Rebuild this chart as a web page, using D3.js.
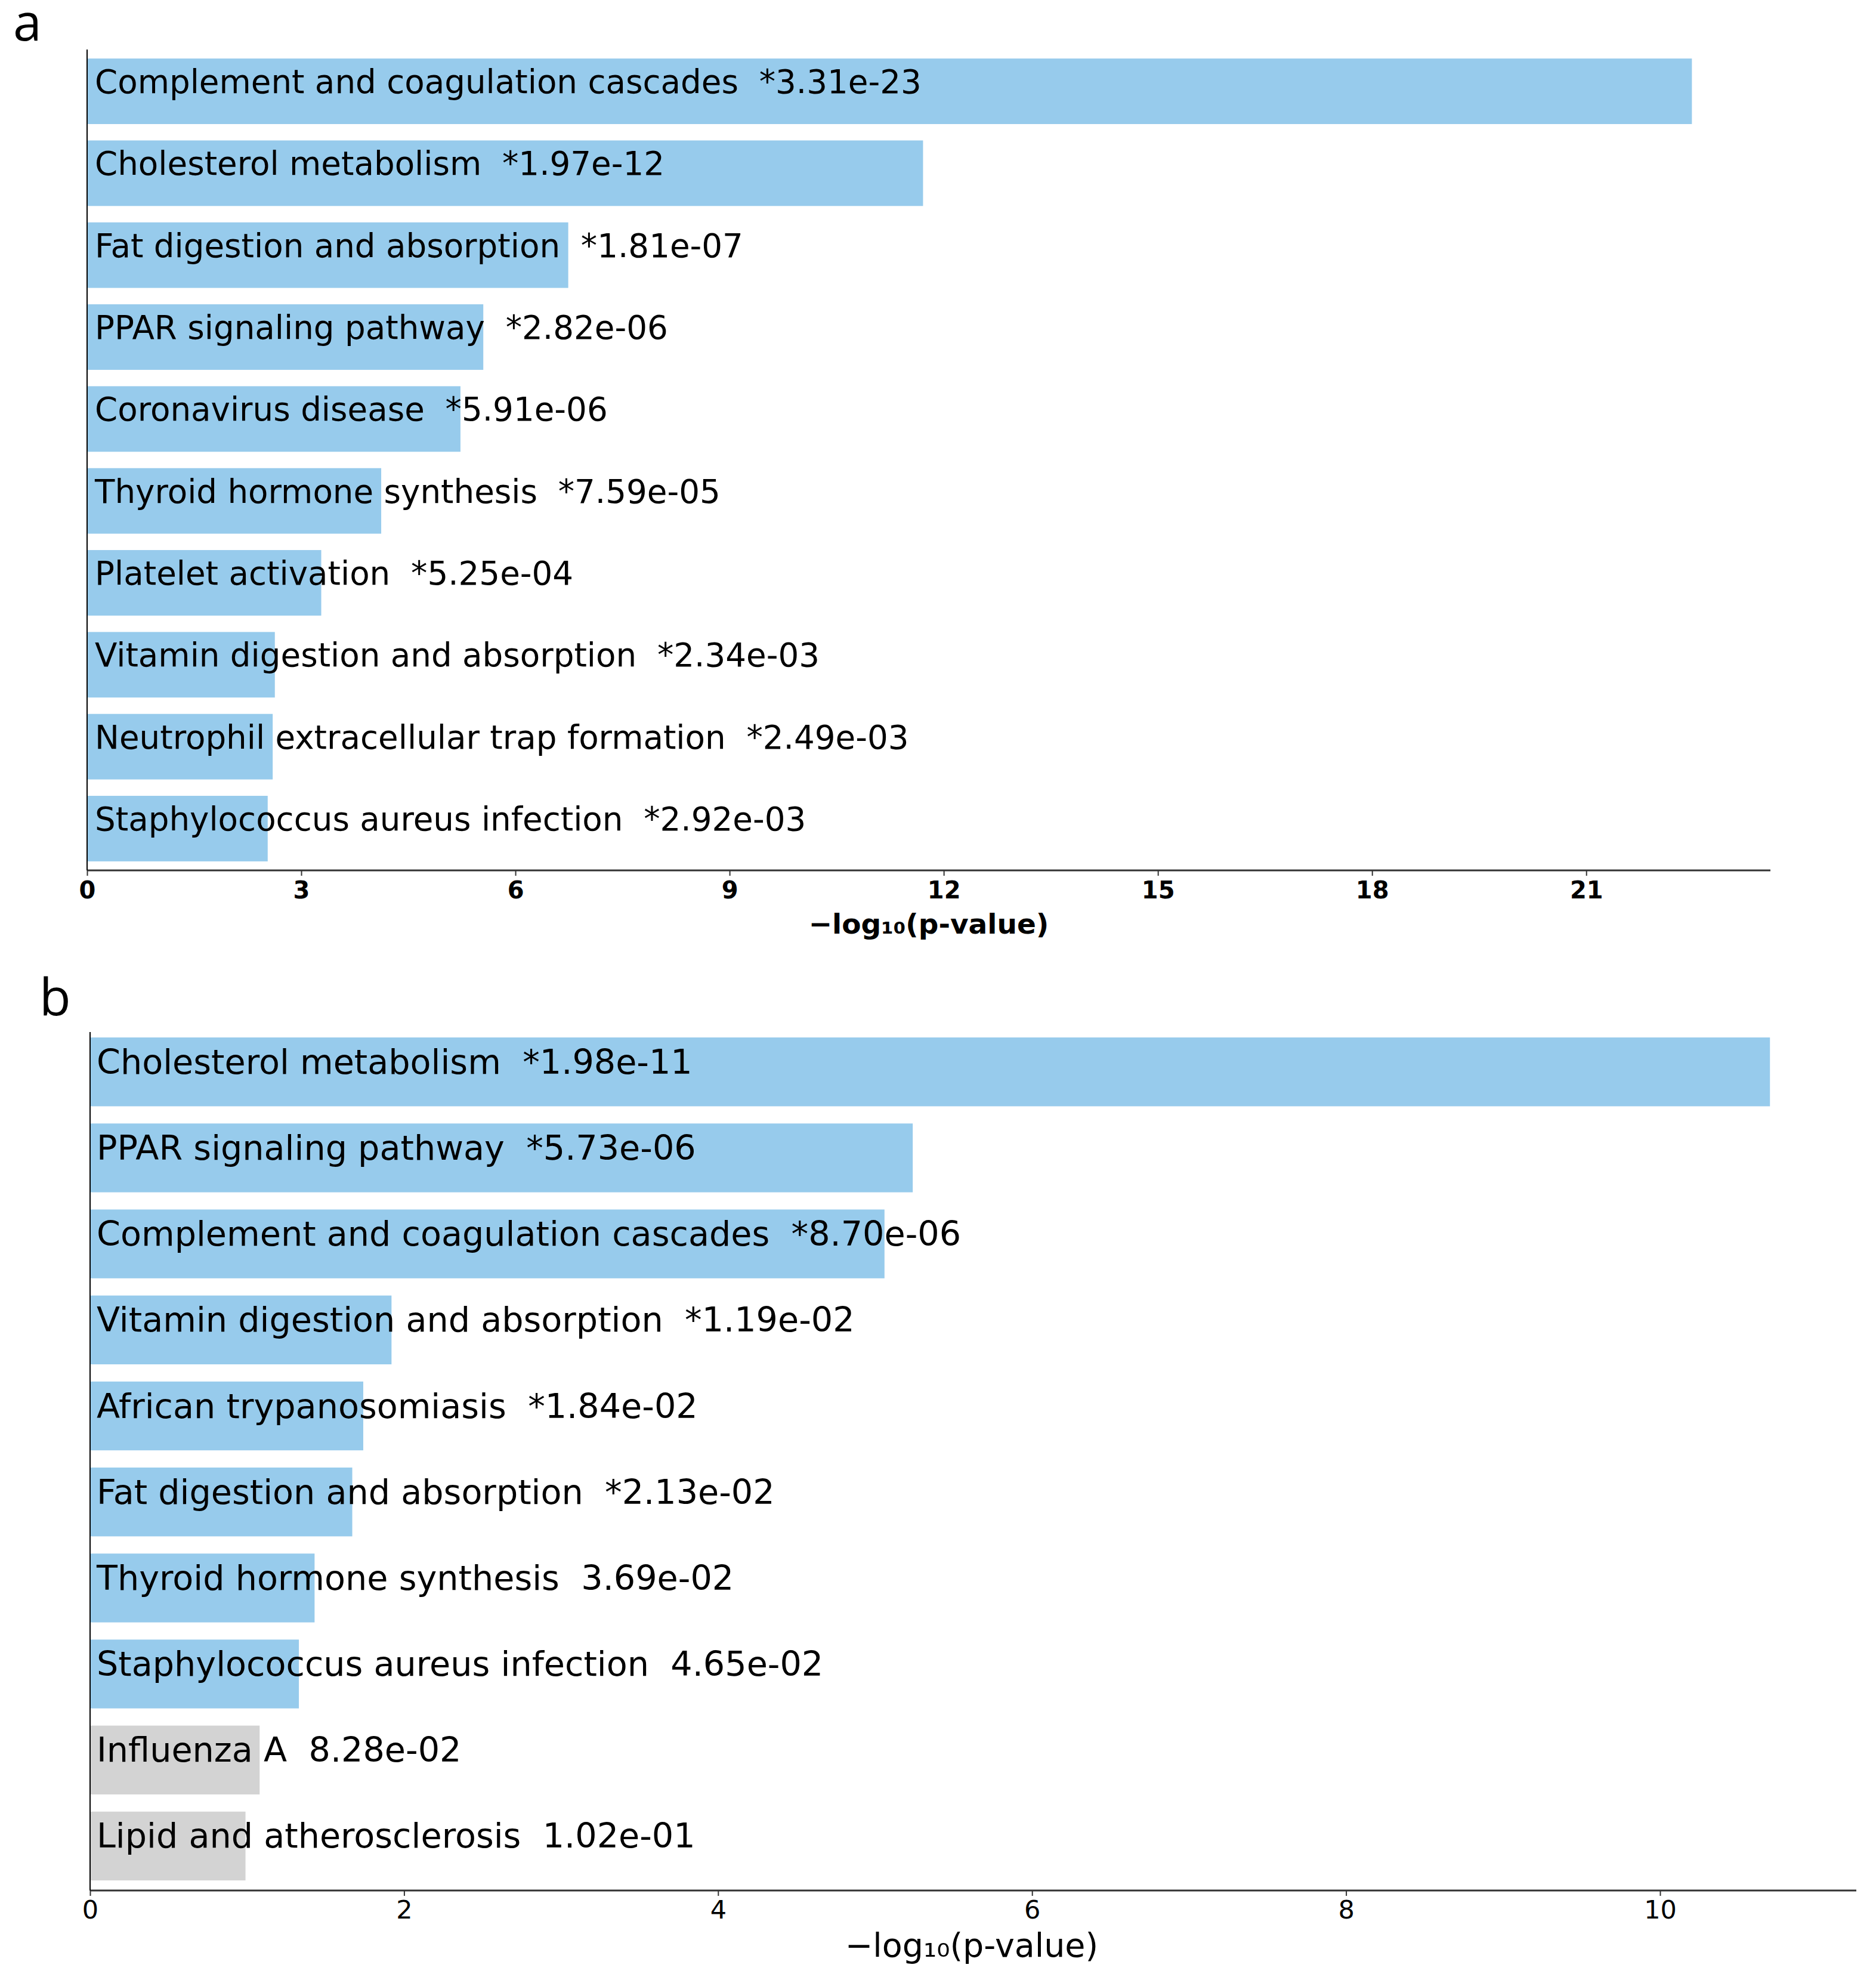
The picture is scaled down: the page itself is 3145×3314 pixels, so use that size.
<!DOCTYPE html>
<html>
<head>
<meta charset="utf-8">
<script src="https://cdn.jsdelivr.net/npm/d3@7"></script>
<style>
  body { margin: 0; background: #fff; }
  text { font-family: "DejaVu Sans", sans-serif; }
</style>
</head>
<body>
<div id="chart"></div>
<script>
// panel a
var termsA = ["Complement and coagulation cascades", "Cholesterol metabolism", "Fat digestion and absorption",
  "PPAR signaling pathway", "Coronavirus disease", "Thyroid hormone synthesis", "Platelet activation",
  "Vitamin digestion and absorption", "Neutrophil extracellular trap formation", "Staphylococcus aureus infection"];
var pTextA = ["*3.31e-23", "*1.97e-12", "*1.81e-07", "*2.82e-06", "*5.91e-06", "*7.59e-05", "*5.25e-04",
  "*2.34e-03", "*2.49e-03", "*2.92e-03"];
var valuesA = [22.48, 11.71, 6.74, 5.55, 5.23, 4.12, 3.28, 2.63, 2.60, 2.53];
var groupA = ["sig", "sig", "sig", "sig", "sig", "sig", "sig", "sig", "sig", "sig"];
var ticksA = [0, 3, 6, 9, 12, 15, 18, 21];

// panel b
var termsB = ["Cholesterol metabolism", "PPAR signaling pathway", "Complement and coagulation cascades",
  "Vitamin digestion and absorption", "African trypanosomiasis", "Fat digestion and absorption",
  "Thyroid hormone synthesis", "Staphylococcus aureus infection", "Influenza A", "Lipid and atherosclerosis"];
var pTextB = ["*1.98e-11", "*5.73e-06", "*8.70e-06", "*1.19e-02", "*1.84e-02", "*2.13e-02", "3.69e-02",
  "4.65e-02", "8.28e-02", "1.02e-01"];
var valuesB = [10.70, 5.24, 5.06, 1.92, 1.74, 1.67, 1.43, 1.33, 1.08, 0.99];
var groupB = ["sig", "sig", "sig", "sig", "sig", "sig", "sig", "sig", "ns", "ns"];
var ticksB = [0, 2, 4, 6, 8, 10];

var axisTitle = "\u2212log\u2081\u2080(p-value)";
var colors = { sig: "#97cbec", ns: "#d3d3d3" };

var svgWidth = 3145;
var svgHeight = 3314;

var svg = d3.select("#chart")
  .append("svg")
  .attr("width", svgWidth)
  .attr("height", svgHeight);

svg.append("rect").attr("width", svgWidth).attr("height", svgHeight).attr("fill", "#fff");

function drawPanel(p) {
  var data = p.terms.map(function(t, i) {
    return { term: t, ptext: p.ptext[i], value: p.values[i], group: p.group[i] };
  });

  var xScale = d3.scaleLinear()
    .domain([0, p.xmax])
    .range([p.left, p.right]);

  var yScale = d3.scaleBand()
    .domain(data.map(function(d) { return d.term; }))
    .range([p.top, p.bottom])
    .paddingInner(0.2)
    .paddingOuter(p.outer)
    .align(p.align);

  var g = svg.append("g");

  // bars
  g.selectAll("rect.bar")
    .data(data)
    .enter()
    .append("rect")
    .attr("class", "bar")
    .attr("x", xScale(0))
    .attr("y", function(d) { return yScale(d.term); })
    .attr("width", function(d) { return xScale(d.value) - xScale(0); })
    .attr("height", yScale.bandwidth())
    .attr("fill", function(d) { return colors[d.group]; });

  // x axis
  var xAxis = d3.axisBottom(xScale)
    .tickValues(p.ticks)
    .tickFormat(d3.format("d"))
    .tickSize(9)
    .tickPadding(p.tickPad);

  var ax = g.append("g")
    .attr("transform", "translate(0," + p.bottom + ")")
    .call(xAxis);
  ax.select(".domain").remove();
  ax.selectAll(".tick line").attr("stroke", "#333").attr("stroke-width", 2);
  ax.selectAll(".tick text")
    .attr("fill", "#000")
    .style("font-family", "DejaVu Sans")
    .style("font-size", p.tickSize + "px")
    .style("font-weight", p.bold ? "bold" : "normal");

  // spines: left and bottom only
  g.append("line")
    .attr("x1", p.left).attr("x2", p.right)
    .attr("y1", p.bottom).attr("y2", p.bottom)
    .attr("stroke", "#333").attr("stroke-width", 3);
  g.append("line")
    .attr("x1", p.left).attr("x2", p.left)
    .attr("y1", p.top).attr("y2", p.bottom)
    .attr("stroke", "#000").attr("stroke-width", 2);

  // bar labels
  g.selectAll("text.lab")
    .data(data)
    .enter()
    .append("text")
    .attr("class", "lab")
    .attr("x", xScale(0) + p.textOff)
    .attr("y", function(d) { return yScale(d.term) + yScale.bandwidth() / 2 + 3; })
    .style("white-space", "pre")
    .style("font-size", p.labelSize + "px")
    .attr("fill", "#000")
    .text(function(d) { return d.term + "  " + d.ptext; });

  // axis title
  g.append("text")
    .attr("x", p.titleX)
    .attr("y", p.titleY)
    .attr("text-anchor", "middle")
    .style("font-size", p.titleSize + "px")
    .style("font-weight", p.bold ? "bold" : "normal")
    .text(axisTitle);

  // panel letter
  svg.append("text")
    .attr("x", p.letterX)
    .attr("y", p.letterY)
    .style("font-family", "Open Sans")
    .style("font-size", "86px")
    .text(p.letter);
}

drawPanel({
  terms: termsA, ptext: pTextA, values: valuesA, group: groupA, ticks: ticksA,
  xmax: 23.58, left: 146, right: 2968, top: 83, bottom: 1459,
  outer: 0.11, align: 0.5, tickPad: 10, tickSize: 40, bold: true,
  labelSize: 54.7, textOff: 13, titleX: 1557, titleY: 1565, titleSize: 47,
  letter: "a", letterX: 22, letterY: 68
});

drawPanel({
  terms: termsB, ptext: pTextB, values: valuesB, group: groupB, ticks: ticksB,
  xmax: 11.25, left: 151, right: 3112, top: 1730, bottom: 3169,
  outer: 0.09, align: 0.35, tickPad: 7, tickSize: 43, bold: false,
  labelSize: 57.2, textOff: 11, titleX: 1629, titleY: 3280, titleSize: 55.5,
  letter: "b", letterX: 66, letterY: 1702
});
</script>
</body>
</html>
